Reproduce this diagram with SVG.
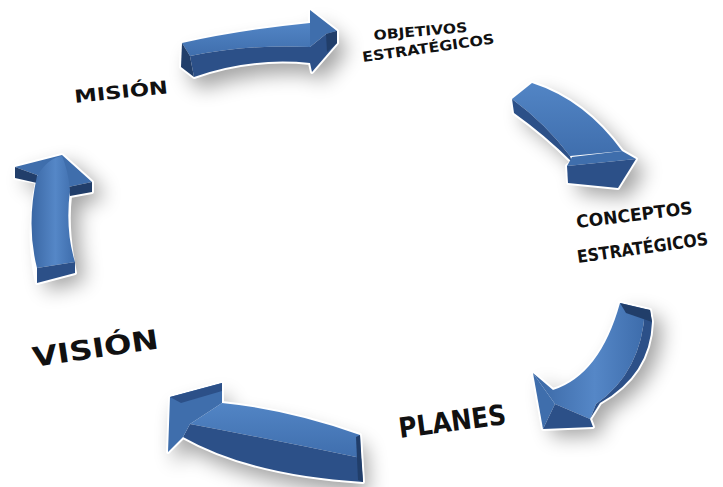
<svg xmlns="http://www.w3.org/2000/svg" width="723" height="487" viewBox="0 0 723 487">
  <defs>
    <style>
      .lbl { font-family: "DejaVu Sans", "Liberation Sans", sans-serif; font-weight: bold; fill: #111; }
      .halo { fill: #fff; stroke: #fff; stroke-width: 4; stroke-linejoin: round; }
      .shadow { fill: #000; opacity: 0.36; filter: url(#blur); }
      .mid { fill: #3f6eac; }
      .dark { fill: #2c5088; }
      .deep { fill: #213e6a; }
    </style>
    <filter id="blur" x="-60%" y="-60%" width="220%" height="220%">
      <feGaussianBlur stdDeviation="10"/>
    </filter>
    <linearGradient id="gTop" x1="0" y1="0" x2="0" y2="1">
      <stop offset="0" stop-color="#5285c5"/>
      <stop offset="1" stop-color="#3f6ead"/>
    </linearGradient>
    <linearGradient id="gSide" x1="0" y1="0" x2="1" y2="0">
      <stop offset="0" stop-color="#3a67a4"/>
      <stop offset="0.55" stop-color="#5587c7"/>
      <stop offset="1" stop-color="#3d6cab"/>
    </linearGradient>
  </defs>

  <rect width="723" height="487" fill="#fff"/>

  <g id="connectors">
    <!-- top arrow: MISIÓN to OBJETIVOS -->
    <g id="arrow-mision-objetivos">
      <path class="shadow" transform="translate(8,12)" d="M182,43 Q240,30 310,23 L310,10 L337,31 L337,43 L312,72 L310,63 Q250,57 194,77 L181,67 Z"/>
      <path class="halo" d="M182,43 Q240,30 310,23 L310,10 L337,31 L337,43 L312,72 L310,63 Q250,57 194,77 L181,67 Z"/>
      <path fill="url(#gTop)" d="M182,43 Q240,30 310,23 L310,47 Q248,44 190,56 Z"/>
      <path class="dark" d="M190,56 Q248,44 310,47 L310,63 Q250,57 194,77 Z"/>
      <path class="deep" d="M182,43 L190,56 L194,77 L181,67 Z"/>
      <path class="mid" d="M310,10 L337,31 L326,34 L310,47 Z"/>
      <path class="dark" d="M310,47 L326,34 L337,31 L337,43 L312,72 L310,63 Z"/>
      <path class="deep" d="M326,34 L337,31 L337,43 L327,52 Z"/>
    </g>

    <!-- upper right arrow: OBJETIVOS to CONCEPTOS -->
    <g id="arrow-objetivos-conceptos">
      <path class="shadow" transform="translate(10,10)" d="M532,83 Q585,100 622,151 L636,159 L618,188 L568,183 L567,166 L572,162 Q545,135 514,113 L512,99 Z"/>
      <path class="halo" d="M532,83 Q585,100 622,151 L636,159 L618,188 L568,183 L567,166 L572,162 Q545,135 514,113 L512,99 Z"/>
      <path fill="url(#gTop)" d="M512,99 L532,83 Q585,100 622,151 L570,156 Q546,124 512,99 Z"/>
      <path class="dark" d="M512,99 Q546,124 570,156 L572,162 Q545,135 514,113 Z"/>
      <path class="mid" d="M567,166 L572,157 L622,151 L636,159 Z"/>
      <path class="dark" d="M567,166 L636,159 L618,188 L568,183 Z"/>
    </g>

    <!-- lower right arrow: CONCEPTOS to PLANES -->
    <g id="arrow-conceptos-planes">
      <path class="shadow" transform="translate(10,8)" d="M620,303 L650,310 L652,322 Q650,375 600,403 L590,419 L593,427 L543,429 L533,373 L553,390 Q600,375 620,303 Z"/>
      <path class="halo" d="M620,303 L650,310 L652,322 Q650,375 600,403 L590,419 L593,427 L543,429 L533,373 L553,390 Q600,375 620,303 Z"/>
      <path fill="url(#gSide)" d="M620,303 L645,309 Q642,372 596,404 L590,419 L555,404 L533,373 L553,390 Q600,375 620,303 Z"/>
      <path class="dark" d="M645,309 L650,310 L652,322 Q650,375 600,403 L590,419 L596,404 Q642,372 645,309 Z"/>
      <path class="deep" d="M620,303 L650,310 L652,322 L626,313 Z"/>
      <path class="mid" d="M533,373 L555,404 L543,429 Z"/>
      <path class="dark" d="M555,404 L590,419 L593,427 L543,429 Z"/>
    </g>

    <!-- bottom arrow: PLANES to VISIÓN -->
    <g id="arrow-planes-vision">
      <path class="shadow" transform="translate(6,12)" d="M222,403 Q290,410 360,435 L363,482 Q250,475 183,437 L168,452 L170,397 L222,383 Z"/>
      <path class="halo" d="M222,403 Q290,410 360,435 L363,482 Q250,475 183,437 L168,452 L170,397 L222,383 Z"/>
      <path fill="url(#gTop)" d="M222,403 Q290,410 360,435 L361,458 Q275,440 190,424 Z"/>
      <path class="dark" d="M190,424 Q275,440 361,458 L363,482 Q250,475 183,437 Z"/>
      <path class="mid" d="M170,397 L222,383 L222,403 L190,424 L183,437 L168,452 Z"/>
      <path class="dark" d="M170,397 L222,383 L222,391 L181,403 Z"/>
      <path class="deep" d="M360,435 L363,482 L358,480 L356,437 Z"/>
    </g>

    <!-- left arrow: VISIÓN to MISIÓN -->
    <g id="arrow-vision-mision">
      <path class="shadow" transform="translate(10,8)" d="M15,167 L62,155 L92,182 L92,192 L70,196 Q66,230 75,273 L37,283 Q26,235 37,182 L15,178 Z"/>
      <path class="halo" d="M15,167 L62,155 L92,182 L92,192 L70,196 Q66,230 75,273 L37,283 Q26,235 37,182 L15,178 Z"/>
      <path class="mid" d="M15,167 L62,155 L92,182 L68,187 L37,175 Z"/>
      <path class="deep" d="M15,167 L37,175 L37,183 L15,178 Z"/>
      <path class="deep" d="M68,187 L92,182 L92,192 L70,196 Z"/>
      <path fill="url(#gSide)" d="M37,176 Q48,158 62,156 Q68,170 70,190 Q65,230 75,262 L37,268 Q26,225 37,176 Z"/>
      <path class="dark" d="M37,268 L75,262 L75,273 L37,283 Z"/>
    </g>
  </g>

  <!-- labels -->
  <g id="node-mision">
    <text class="lbl" x="75" y="103" font-size="18" textLength="94" lengthAdjust="spacingAndGlyphs" transform="rotate(-6 75 103)">MISIÓN</text>
  </g>
  <g id="node-objetivos">
    <text class="lbl" x="374" y="40" font-size="13.5" textLength="94" lengthAdjust="spacingAndGlyphs" transform="rotate(-5 374 40)">OBJETIVOS</text>
    <text class="lbl" x="363" y="62" font-size="14" textLength="133" lengthAdjust="spacingAndGlyphs" transform="rotate(-8 363 62)">ESTRATÉGICOS</text>
  </g>
  <g id="node-conceptos">
    <text class="lbl" x="577" y="228" font-size="17.5" textLength="117" lengthAdjust="spacingAndGlyphs" transform="rotate(-7 577 228)">CONCEPTOS</text>
    <text class="lbl" x="578" y="263" font-size="17.5" textLength="132" lengthAdjust="spacingAndGlyphs" transform="rotate(-8 578 263)">ESTRATÉGICOS</text>
  </g>
  <g id="node-planes">
    <text class="lbl" x="400" y="438" font-size="28" textLength="108" lengthAdjust="spacingAndGlyphs" transform="rotate(-7.5 400 438)">PLANES</text>
  </g>
  <g id="node-vision">
    <text class="lbl" x="34" y="367" font-size="27" textLength="127" lengthAdjust="spacingAndGlyphs" transform="rotate(-8.5 34 367)">VISIÓN</text>
  </g>
</svg>
